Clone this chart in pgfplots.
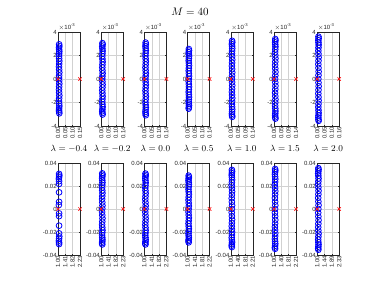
\documentclass[border=0pt]{standalone}
\usepackage{pgfplots}
\pgfplotsset{compat=1.18}
\usepackage{fontspec}
\setsansfont{Liberation Sans}
\definecolor{axgray}{rgb}{0.15,0.15,0.15}
\definecolor{mred}{rgb}{1,0.1,0.1}
\pgfplotsset{
  mybase/.style={
    anchor=south west, width=22pt, scale only axis, clip=false,
    axis line style={axgray, line width=0.6pt},
    tick style={axgray, line width=0.4pt}, tick align=inside, major tick length=1.2pt,
    grid=major, grid style={black!18, line width=0.45pt},
    ticklabel style={font=\sffamily\fontsize{6}{6.5}\selectfont, text=axgray},
    xticklabel style={rotate=90, anchor=east, inner sep=1pt},
    yticklabel style={inner sep=1.2pt},
    scaled ticks=false,
  },
  toprow/.style={mybase, height=94pt, ymin=-4, ymax=4, ytick={-4,-2,0,2,4},
    yticklabels={-4,-2,0,2,4}, xmin=0},
  botrow/.style={mybase, height=92pt, ymin=-0.04, ymax=0.04,
    ytick={-0.04,-0.02,0,0.02,0.04}, yticklabels={-0.04,-0.02,0,0.02,0.04}, xmin=1,
    title style={at={(0.5,1)}, anchor=base, yshift=5.5pt, font=\fontsize{9}{10}\selectfont, inner sep=0pt}},
  circ/.style={only marks, mark=o, mark size=2.9pt, blue, line width=0.8pt},
  redx/.style={only marks, mark=x, mark size=2.4pt, mred, line width=0.7pt},
}
\newcommand{\sci}{\node[anchor=south west, inner sep=0pt, font=\sffamily\fontsize{6}{6.5}\selectfont, text=axgray] at (rel axis cs:0.02,1.02) {$\times$10\raisebox{0.8ex}{\fontsize{4.2}{4.2}\selectfont -3}};}
\begin{document}
\begin{tikzpicture}
\useasboundingbox (0,0) rectangle (379pt,285pt);
\node[font=\fontsize{11}{13}\selectfont] at (190pt,273pt) {$M = 40$};
% ---------------- top row ----------------
\begin{axis}[toprow, at={(58pt,159pt)}, xmax=0.152, xtick={0,0.0507,0.1013,0.152}, xticklabels={0.00,0.05,0.10,0.15}]
\addplot[circ] coordinates {(0.008,2.95)(0.009,2.80)(0.007,2.66)(0.008,2.50)(0.009,2.33)(0.008,2.15)(0.007,1.95)(0.008,1.74)(0.009,1.52)(0.008,1.28)(0.007,1.04)(0.008,0.80)(0.009,0.55)(0.008,0.30)(0.007,0.08)(0.008,-0.15)(0.009,-0.40)(0.008,-0.65)(0.007,-0.90)(0.008,-1.15)(0.009,-1.40)(0.008,-1.65)(0.007,-1.88)(0.008,-2.10)(0.009,-2.30)(0.008,-2.48)(0.007,-2.64)(0.008,-2.78)(0.009,-2.92)};
\addplot[redx] coordinates {(0,0)(0.152,0)};
\sci
\end{axis}
\begin{axis}[toprow, at={(101.2pt,159pt)}, xmax=0.143, xtick={0,0.0477,0.0953,0.143}, xticklabels={0.00,0.05,0.10,0.14}]
\addplot[circ] coordinates {(0.008,3.05)(0.009,2.92)(0.007,2.76)(0.008,2.58)(0.009,2.38)(0.008,2.16)(0.007,1.94)(0.008,1.70)(0.009,1.46)(0.008,1.22)(0.007,0.98)(0.008,0.73)(0.009,0.48)(0.008,0.24)(0.007,0.02)(0.008,-0.22)(0.009,-0.47)(0.008,-0.72)(0.007,-0.97)(0.008,-1.22)(0.009,-1.47)(0.008,-1.71)(0.007,-1.94)(0.008,-2.16)(0.009,-2.37)(0.008,-2.57)(0.007,-2.74)(0.008,-2.89)(0.009,-3.02)};
\addplot[redx] coordinates {(0,0)(0.143,0)};
\sci
\end{axis}
\begin{axis}[toprow, at={(144.4pt,159pt)}, xmax=0.144, xtick={0,0.048,0.096,0.144}, xticklabels={0.00,0.05,0.10,0.14}]
\addplot[circ] coordinates {(0.008,3.10)(0.009,2.96)(0.007,2.80)(0.008,2.62)(0.009,2.42)(0.008,2.20)(0.007,1.97)(0.008,1.73)(0.009,1.48)(0.008,1.23)(0.007,0.98)(0.008,0.73)(0.009,0.48)(0.008,0.24)(0.007,0.00)(0.008,-0.24)(0.009,-0.49)(0.008,-0.74)(0.007,-0.99)(0.008,-1.24)(0.009,-1.49)(0.008,-1.74)(0.007,-1.98)(0.008,-2.21)(0.009,-2.42)(0.008,-2.62)(0.007,-2.80)(0.008,-2.95)(0.009,-3.08)};
\addplot[redx] coordinates {(0,0)(0.144,0)};
\sci
\end{axis}
\begin{axis}[toprow, at={(187.6pt,159pt)}, xmax=0.142, xtick={0,0.0473,0.0947,0.142}, xticklabels={0.00,0.05,0.10,0.14}]
\addplot[circ] coordinates {(0.008,2.55)(0.009,2.42)(0.007,2.28)(0.008,2.12)(0.009,1.95)(0.008,1.76)(0.007,1.56)(0.008,1.35)(0.009,1.14)(0.008,0.92)(0.007,0.70)(0.008,0.47)(0.009,0.24)(0.008,0.02)(0.007,-0.21)(0.008,-0.44)(0.009,-0.67)(0.008,-0.89)(0.007,-1.11)(0.008,-1.33)(0.009,-1.54)(0.008,-1.74)(0.007,-1.93)(0.008,-2.10)(0.009,-2.26)(0.008,-2.40)(0.007,-2.52)};
\addplot[redx] coordinates {(0,0)(0.142,0)};
\sci
\end{axis}
\begin{axis}[toprow, at={(230.8pt,159pt)}, xmax=0.138, xtick={0,0.046,0.092,0.138}, xticklabels={0.00,0.05,0.09,0.14}]
\addplot[circ] coordinates {(0.008,3.25)(0.009,3.12)(0.007,2.97)(0.008,2.80)(0.009,2.60)(0.008,2.38)(0.007,2.15)(0.008,1.90)(0.009,1.64)(0.008,1.38)(0.007,1.11)(0.008,0.84)(0.009,0.56)(0.008,0.28)(0.007,0.01)(0.008,-0.27)(0.009,-0.55)(0.008,-0.83)(0.007,-1.10)(0.008,-1.37)(0.009,-1.63)(0.008,-1.89)(0.007,-2.14)(0.008,-2.37)(0.009,-2.59)(0.008,-2.79)(0.007,-2.96)(0.008,-3.10)(0.009,-3.22)};
\addplot[redx] coordinates {(0,0)(0.138,0)};
\sci
\end{axis}
\begin{axis}[toprow, at={(274pt,159pt)}, xmax=0.138, xtick={0,0.046,0.092,0.138}, xticklabels={0.00,0.05,0.09,0.14}]
\addplot[circ] coordinates {(0.008,3.40)(0.009,3.27)(0.007,3.12)(0.008,2.94)(0.009,2.74)(0.008,2.52)(0.007,2.28)(0.008,2.02)(0.009,1.75)(0.008,1.47)(0.007,1.18)(0.008,0.89)(0.009,0.60)(0.008,0.30)(0.007,0.01)(0.008,-0.29)(0.009,-0.59)(0.008,-0.88)(0.007,-1.17)(0.008,-1.46)(0.009,-1.74)(0.008,-2.01)(0.007,-2.27)(0.008,-2.51)(0.009,-2.73)(0.008,-2.93)(0.007,-3.10)(0.008,-3.25)(0.009,-3.37)};
\addplot[redx] coordinates {(0,0)(0.138,0)};
\sci
\end{axis}
\begin{axis}[toprow, at={(317.2pt,159pt)}, xmax=0.156, xtick={0,0.052,0.104,0.156}, xticklabels={0.00,0.05,0.10,0.16}]
\addplot[circ] coordinates {(0.009,3.60)(0.010,3.46)(0.008,3.30)(0.009,3.11)(0.010,2.90)(0.009,2.66)(0.008,2.40)(0.009,2.13)(0.010,1.84)(0.009,1.55)(0.008,1.25)(0.009,0.94)(0.010,0.63)(0.009,0.32)(0.008,0.01)(0.009,-0.31)(0.010,-0.62)(0.009,-0.93)(0.008,-1.24)(0.009,-1.54)(0.010,-1.83)(0.009,-2.12)(0.008,-2.39)(0.009,-2.65)(0.010,-2.89)(0.009,-3.10)(0.008,-3.28)(0.009,-3.44)(0.010,-3.56)};
\addplot[redx] coordinates {(0,0)(0.156,0)};
\sci
\end{axis}
% ---------------- bottom row ----------------
\begin{axis}[botrow, at={(58pt,30pt)}, title={$\lambda = -0.4$}, xmax=2.23, xtick={1,1.41,1.82,2.23}, xticklabels={1.00,1.41,1.82,2.23}]
\addplot[circ] coordinates {(1.06,0.0305)(1.07,0.0292)(1.06,0.0278)(1.05,0.0262)(1.06,0.0242)(1.06,0.0218)(1.06,0.0145)(1.06,0.0062)(1.05,0.0035)(1.06,-0.0038)(1.06,-0.0062)(1.06,-0.0145)(1.06,-0.0212)(1.07,-0.0238)(1.06,-0.0258)(1.05,-0.0276)(1.06,-0.0292)(1.06,-0.0305)};
\addplot[redx] coordinates {(1,0)(2.23,0)};
\end{axis}
\begin{axis}[botrow, at={(101.2pt,30pt)}, title={$\lambda = -0.2$}, xmax=2.23, xtick={1,1.41,1.82,2.23}, xticklabels={1.00,1.41,1.82,2.23}]
\addplot[circ] coordinates {(1.06,0.0310)(1.07,0.0298)(1.06,0.0284)(1.05,0.0268)(1.06,0.0250)(1.07,0.0230)(1.06,0.0208)(1.05,0.0186)(1.06,0.0162)(1.07,0.0138)(1.06,0.0112)(1.05,0.0086)(1.06,0.0058)(1.07,0.0030)(1.06,0.0003)(1.05,-0.0026)(1.06,-0.0054)(1.07,-0.0082)(1.06,-0.0110)(1.05,-0.0136)(1.06,-0.0160)(1.07,-0.0184)(1.06,-0.0206)(1.05,-0.0228)(1.06,-0.0248)(1.07,-0.0266)(1.06,-0.0282)(1.05,-0.0296)(1.06,-0.0308)};
\addplot[redx] coordinates {(1,0)(2.23,0)};
\end{axis}
\begin{axis}[botrow, at={(144.4pt,30pt)}, title={$\lambda = 0.0$}, xmax=2.23, xtick={1,1.41,1.82,2.23}, xticklabels={1.00,1.41,1.82,2.23}]
\addplot[circ] coordinates {(1.06,0.0308)(1.07,0.0296)(1.06,0.0282)(1.05,0.0266)(1.06,0.0248)(1.07,0.0228)(1.06,0.0206)(1.05,0.0184)(1.06,0.0160)(1.07,0.0136)(1.06,0.0110)(1.05,0.0084)(1.06,0.0056)(1.07,0.0028)(1.06,0.0001)(1.05,-0.0027)(1.06,-0.0055)(1.07,-0.0083)(1.06,-0.0110)(1.05,-0.0137)(1.06,-0.0162)(1.07,-0.0186)(1.06,-0.0208)(1.05,-0.0229)(1.06,-0.0249)(1.07,-0.0267)(1.06,-0.0283)(1.05,-0.0297)(1.06,-0.0308)};
\addplot[redx] coordinates {(1,0)(2.23,0)};
\end{axis}
\begin{axis}[botrow, at={(187.6pt,30pt)}, title={$\lambda = 0.5$}, xmax=2.22, xtick={1,1.4067,1.8133,2.22}, xticklabels={1.00,1.41,1.81,2.22}]
\addplot[circ] coordinates {(1.06,0.0290)(1.07,0.0278)(1.06,0.0265)(1.05,0.0250)(1.06,0.0233)(1.07,0.0214)(1.06,0.0194)(1.05,0.0172)(1.06,0.0150)(1.07,0.0127)(1.06,0.0103)(1.05,0.0078)(1.06,0.0052)(1.07,0.0026)(1.06,0.0000)(1.05,-0.0026)(1.06,-0.0052)(1.07,-0.0078)(1.06,-0.0103)(1.05,-0.0127)(1.06,-0.0150)(1.07,-0.0172)(1.06,-0.0194)(1.05,-0.0214)(1.06,-0.0233)(1.07,-0.0250)(1.06,-0.0265)(1.05,-0.0278)(1.06,-0.0290)};
\addplot[redx] coordinates {(1,0)(2.22,0)};
\end{axis}
\begin{axis}[botrow, at={(230.8pt,30pt)}, title={$\lambda = 1.0$}, xmax=2.21, xtick={1,1.4033,1.8067,2.21}, xticklabels={1.00,1.40,1.81,2.21}]
\addplot[circ] coordinates {(1.06,0.0340)(1.07,0.0327)(1.06,0.0312)(1.05,0.0295)(1.06,0.0276)(1.07,0.0254)(1.06,0.0231)(1.05,0.0206)(1.06,0.0180)(1.07,0.0152)(1.06,0.0123)(1.05,0.0093)(1.06,0.0062)(1.07,0.0031)(1.06,0.0000)(1.05,-0.0031)(1.06,-0.0062)(1.07,-0.0092)(1.06,-0.0121)(1.05,-0.0149)(1.06,-0.0176)(1.07,-0.0202)(1.06,-0.0226)(1.05,-0.0249)(1.06,-0.0270)(1.07,-0.0289)(1.06,-0.0305)(1.05,-0.0319)(1.06,-0.0331)};
\addplot[redx] coordinates {(1,0)(2.21,0)};
\end{axis}
\begin{axis}[botrow, at={(274pt,30pt)}, title={$\lambda = 1.5$}, xmax=2.21, xtick={1,1.4033,1.8067,2.21}, xticklabels={1.00,1.40,1.81,2.21}]
\addplot[circ] coordinates {(1.06,0.0348)(1.07,0.0335)(1.06,0.0320)(1.05,0.0302)(1.06,0.0282)(1.07,0.0260)(1.06,0.0236)(1.05,0.0210)(1.06,0.0183)(1.07,0.0155)(1.06,0.0126)(1.05,0.0095)(1.06,0.0064)(1.07,0.0032)(1.06,0.0000)(1.05,-0.0032)(1.06,-0.0064)(1.07,-0.0095)(1.06,-0.0126)(1.05,-0.0155)(1.06,-0.0183)(1.07,-0.0210)(1.06,-0.0236)(1.05,-0.0260)(1.06,-0.0282)(1.07,-0.0302)(1.06,-0.0320)(1.05,-0.0335)(1.06,-0.0346)};
\addplot[redx] coordinates {(1,0)(2.21,0)};
\end{axis}
\begin{axis}[botrow, at={(317.2pt,30pt)}, title={$\lambda = 2.0$}, xmax=2.33, xtick={1,1.4433,1.8867,2.33}, xticklabels={1.00,1.44,1.89,2.33}]
\addplot[circ] coordinates {(1.07,0.0355)(1.08,0.0342)(1.07,0.0327)(1.06,0.0309)(1.07,0.0289)(1.08,0.0266)(1.07,0.0241)(1.06,0.0215)(1.07,0.0187)(1.08,0.0158)(1.07,0.0128)(1.06,0.0097)(1.07,0.0065)(1.08,0.0033)(1.07,0.0000)(1.06,-0.0033)(1.07,-0.0065)(1.08,-0.0097)(1.07,-0.0128)(1.06,-0.0158)(1.07,-0.0187)(1.08,-0.0215)(1.07,-0.0241)(1.06,-0.0266)(1.07,-0.0289)(1.08,-0.0309)(1.07,-0.0327)(1.06,-0.0342)(1.07,-0.0354)};
\addplot[redx] coordinates {(1,0)(2.33,0)};
\end{axis}
\end{tikzpicture}
\end{document}
